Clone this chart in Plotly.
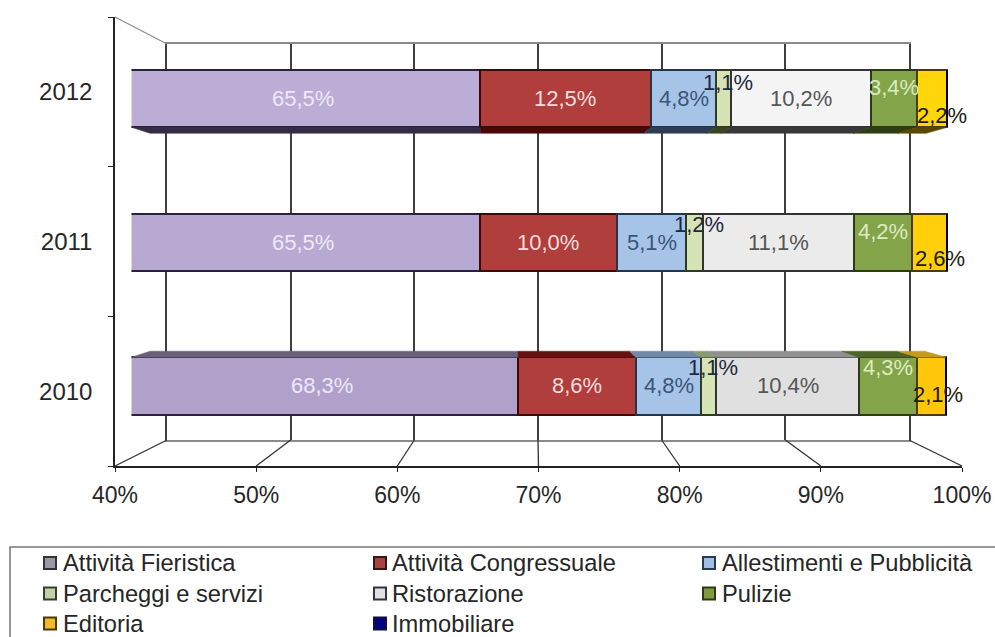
import plotly.graph_objects as go

W, H = 995, 637
years = ["2010", "2011", "2012"]
ticks = [40, 50, 60, 70, 80, 90, 100]
tick_labels = ["40%", "50%", "60%", "70%", "80%", "90%", "100%"]

fieristica = [68.3, 65.5, 65.5]
congressuale = [8.6, 10.0, 12.5]
allestimenti = [4.8, 5.1, 4.8]
parcheggi = [1.1, 1.2, 1.1]
ristorazione = [10.4, 11.1, 10.2]
pulizie = [4.3, 4.2, 3.4]
editoria = [2.1, 2.6, 2.2]
immobiliare = [0, 0, 0]

names = ["Attività Fieristica", "Attività Congressuale", "Allestimenti e Pubblicità",
         "Parcheggi e servizi", "Ristorazione", "Pulizie", "Editoria", "Immobiliare"]
series = [fieristica, congressuale, allestimenti, parcheggi, ristorazione, pulizie, editoria, immobiliare]

colors = [["#B1A1CA", "#B8A9D2", "#BBADD6"], "#B03E3C", "#A6C4E8", "#D5E3B5",
          ["#E0E0E0", "#EBEBEB", "#F4F4F4"], "#84A44A", ["#FFC60A", "#FFD00A", "#FFD60A"], "#000080"]
edges = ["#2A2238", "#3A0A0A", "#25344A", "#2E3A22", "#333333", "#2C3A14", "#4A3C00", "#000040"]
bottom_side = ["#352C45", "#4A0808", "#2E3D55", "#3A4520", "#383838", "#2E3D14", "#5A4800", "#000000"]
top_side = ["#6A607A", "#6A1212", "#7288A8", "#8A9A70", "#8F8F8F", "#4D6428", "#C89820", "#000000"]
label_colors = ["#EEE8F6", "#F6DCDC", "#3C5478", "#1F2840", "#555555", "#DDEBC0", "#1E1A0C"]
# pixel nudges of the labels per series, per year index
dx = [[-3, -3, -3], [0, 0, 0], [0, 0, 0], [4, 4, 4], [0, 0, 0], [0, 0, 0], [6, 10, 10]]
dy = [[0, 0, 0], [0, 0, 0], [0, 0, 0], [-18, -18, -16], [0, 0, 0], [-18, -11, -11], [9, 16, 17]]

# hand-placed legend keys: colours of the small squares in the legend box
key_colors = ["#9A97A8", "#A8423F", "#A0BEE6", "#C3D0A8", "#E2E2E2", "#7F9A3F", "#F2B92A", "#000080"]
key_edges = ["#333333", "#3A1515", "#2A3A55", "#35402A", "#333344", "#2C3A14", "#4A3C00", "#101040"]
legend_cols = [(50, 63), (380, 392), (709, 722)]
legend_rows = [563, 593.5, 623.5]

def fx(px):
    return px / W

def fy(px):
    return 1 - px / H

fig = go.Figure()

# back wall (x, y)
fig.add_trace(go.Scatter(x=[40], y=[0], mode="none", showlegend=False, hoverinfo="skip", xaxis="x", yaxis="y"))
# front axes (x2, y2)
fig.add_trace(go.Scatter(x=[40, 40, 40], y=years, mode="none", showlegend=False, hoverinfo="skip", xaxis="x2", yaxis="y2"))

# bars (x3, y3)
pos = [0, 1, 2]
for i, (name, vals) in enumerate(zip(names, series)):
    fig.add_trace(go.Bar(
        name=name, y=pos, x=vals, orientation="h", width=0.4, showlegend=False,
        marker=dict(color=colors[i], line=dict(color=edges[i], width=2)),
        xaxis="x3", yaxis="y3", hoverinfo="skip",
    ))

BAR_L, BAR_R = 131.5, 951.5
BACK_L, BACK_R = 150.0, 930.0
def back(p):
    # value on the bar axis of a value seen on the rear plane of the bar
    px = BACK_L + (p - 40) / 60 * (BACK_R - BACK_L)
    return 40 + (px - BAR_L) / (BAR_R - BAR_L) * 60

DEPTH = 6 / 143.7
annotations = []
for yi in range(3):
    cum = 0
    for si in range(7):
        a, b = cum, cum + series[si][yi]
        cum = b
        a2 = max(a, 40)
        if yi == 2:
            ys = [yi - .2, yi - .2, yi - .2 - DEPTH, yi - .2 - DEPTH, yi - .2]
            col = bottom_side[si]
        elif yi == 0:
            ys = [yi + .2, yi + .2, yi + .2 + DEPTH, yi + .2 + DEPTH, yi + .2]
            col = top_side[si]
        if yi != 1:
            fig.add_trace(go.Scatter(
                x=[a2, b, back(b), back(a2), a2], y=ys, mode="lines", fill="toself",
                fillcolor=col, line=dict(color=col, width=0.5), showlegend=False,
                hoverinfo="skip", xaxis="x3", yaxis="y3"))
        annotations.append(dict(
            x=(a2 + b) / 2, y=yi, xref="x3", yref="y3", showarrow=False,
            text=f"{series[si][yi]:.1f}%".replace(".", ","),
            font=dict(family="Liberation Sans", size=22, color=label_colors[si]),
            xshift=dx[si][yi], yshift=-dy[si][yi]))

# floor / wall connection lines, derived from the tick list
FRONT_L, FRONT_R, BACK_WALL_L, BACK_WALL_R = 115, 962, 167, 909
TOP_WALL, BOT_WALL, AXIS_TOP, AXIS_BOT = 44, 440, 17, 466
shapes = []
for t in ticks:
    xf = FRONT_L + (t - 40) / 60 * (FRONT_R - FRONT_L)
    xb = BACK_WALL_L + (t - 40) / 60 * (BACK_WALL_R - BACK_WALL_L)
    shapes.append(dict(type="line", xref="paper", yref="paper", x0=fx(xf), y0=fy(AXIS_BOT), x1=fx(xb), y1=fy(BOT_WALL),
                       line=dict(color="#333333", width=1.3)))
shapes.append(dict(type="line", xref="paper", yref="paper", x0=fx(FRONT_L), y0=fy(AXIS_TOP), x1=fx(BACK_WALL_L), y1=fy(TOP_WALL),
                   line=dict(color="#8A8A8A", width=1.2)))
# legend frame, running off the page on the right and at the bottom
shapes.append(dict(type="rect", xref="paper", yref="paper", x0=fx(10), y0=fy(547), x1=fx(1010), y1=fy(660),
                   line=dict(color="#777777", width=1.5)))

# legend: key squares and texts, column by column, row by row
for i, name in enumerate(names):
    row, col = i // 3, i % 3
    kx, tx = legend_cols[col]
    ky = legend_rows[row]
    shapes.append(dict(type="rect", xref="paper", yref="paper",
                       x0=fx(kx - 6), x1=fx(kx + 6), y0=fy(ky + 6), y1=fy(ky - 6),
                       fillcolor=key_colors[i], line=dict(color=key_edges[i], width=2)))
    annotations.append(dict(x=fx(tx), y=fy(ky), xref="paper", yref="paper", xanchor="left", yanchor="middle",
                            showarrow=False, text=name, borderpad=0, xshift=-1,
                            font=dict(family="Liberation Sans", size=23.7, color="#262626")))

font = dict(family="Liberation Sans", size=23, color="#262626")
year_font = dict(family="Liberation Sans", size=24, color="#262626")
fig.update_layout(
    width=W, height=H, autosize=False,
    margin=dict(l=0, r=0, t=0, b=0, autoexpand=False),
    paper_bgcolor="white", plot_bgcolor="rgba(0,0,0,0)",
    barmode="stack", bargap=0.6,
    font=font, showlegend=False,
    annotations=annotations, shapes=shapes,
    xaxis=dict(domain=[fx(BACK_WALL_L), fx(BACK_WALL_R)], range=[40, 100], tickvals=ticks, showticklabels=False,
               showgrid=True, gridcolor="#3F3F3F", gridwidth=1.5, zeroline=False,
               showline=True, mirror=True, linecolor="#8A8A8A", linewidth=1.5, anchor="y", ticks=""),
    yaxis=dict(domain=[fy(BOT_WALL), fy(TOP_WALL)], range=[0, 1], showticklabels=False, showgrid=False, zeroline=False,
               showline=True, mirror=True, linecolor="#3F3F3F", linewidth=1.5, anchor="x", ticks=""),
    xaxis2=dict(domain=[fx(FRONT_L), fx(FRONT_R)], range=[40, 100], tickvals=ticks, ticktext=tick_labels,
                showgrid=False, zeroline=False, showline=True, linecolor="#222222", linewidth=1.5,
                ticks="outside", ticklen=4, tickcolor="#222222", anchor="y2", tickfont=font, ticklabelstandoff=4),
    yaxis2=dict(domain=[fy(AXIS_BOT), fy(AXIS_TOP)], type="category", categoryorder="array", categoryarray=years,
                range=[-0.5, 2.5], tickson="boundaries", showgrid=False, zeroline=False, showline=True,
                linecolor="#222222", linewidth=1.5,
                ticks="outside", ticklen=5, tickcolor="#222222", anchor="x2", tickfont=year_font, ticklabelstandoff=16),
    xaxis3=dict(domain=[fx(BAR_L), fx(BAR_R)], range=[40, 100], visible=False, anchor="y3"),
    yaxis3=dict(domain=[fy(457.8), fy(26.7)], range=[-0.5, 2.5], visible=False, anchor="x3"),
)

fig.write_html("out.html", config={"displayModeBar": False}, post_script="document.body.style.margin='0';")
